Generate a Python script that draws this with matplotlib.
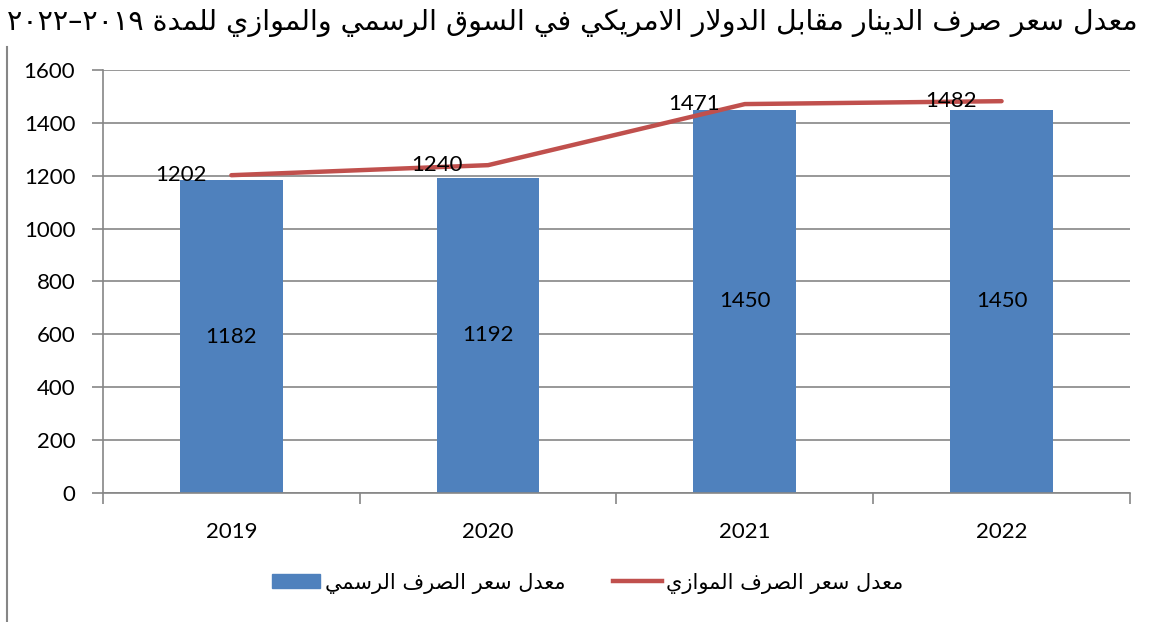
import matplotlib
matplotlib.use("Agg")
import matplotlib.pyplot as plt
from matplotlib.lines import Line2D
from matplotlib.ticker import FixedLocator

years = ["2019", "2020", "2021", "2022"]
official = [1182, 1192, 1450, 1450]
parallel = [1202, 1240, 1471, 1482]

title_ar = "معدل سعر صرف الدينار مقابل الدولار الامريكي في السوق الرسمي والموازي للمدة"
title_years = "٢٠٢٢–٢٠١٩"   # already in visual order
label_official = "معدل سعر الصرف الرسمي"
label_parallel = "معدل سعر الصرف الموازي"

# matplotlib does no arabic shaping, so pick presentation forms by hand
# letter: (isolated, final, initial, medial)
FORMS = {
    'ا': (0xFE8D, 0xFE8E, None, None),
    'ب': (0xFE8F, 0xFE90, 0xFE91, 0xFE92),
    'ة': (0xFE93, 0xFE94, None, None),
    'ت': (0xFE95, 0xFE96, 0xFE97, 0xFE98),
    'د': (0xFEA9, 0xFEAA, None, None),
    'ر': (0xFEAD, 0xFEAE, None, None),
    'ز': (0xFEAF, 0xFEB0, None, None),
    'س': (0xFEB1, 0xFEB2, 0xFEB3, 0xFEB4),
    'ص': (0xFEB9, 0xFEBA, 0xFEBB, 0xFEBC),
    'ع': (0xFEC9, 0xFECA, 0xFECB, 0xFECC),
    'ف': (0xFED1, 0xFED2, 0xFED3, 0xFED4),
    'ق': (0xFED5, 0xFED6, 0xFED7, 0xFED8),
    'ك': (0xFED9, 0xFEDA, 0xFEDB, 0xFEDC),
    'ل': (0xFEDD, 0xFEDE, 0xFEDF, 0xFEE0),
    'م': (0xFEE1, 0xFEE2, 0xFEE3, 0xFEE4),
    'ن': (0xFEE5, 0xFEE6, 0xFEE7, 0xFEE8),
    'و': (0xFEED, 0xFEEE, None, None),
    'ي': (0xFEF1, 0xFEF2, 0xFEF3, 0xFEF4),
}


def joins_next(c):
    return c in FORMS and FORMS[c][2] is not None


def shape(text):
    res = []
    prev = None
    i = 0
    n = len(text)
    while i < n:
        c = text[i]
        if c not in FORMS:
            res.append(c)
            prev = None
            i += 1
            continue
        link_prev = prev is not None and joins_next(prev)
        if c == 'ل' and i + 1 < n and text[i + 1] == 'ا':
            res.append(chr(0xFEFC if link_prev else 0xFEFB))
            prev = 'ا'
            i += 2
            continue
        nxt = text[i + 1] if i + 1 < n else None
        link_next = joins_next(c) and nxt in FORMS
        iso, fin, ini, med = FORMS[c]
        if link_prev and link_next:
            g = med
        elif link_prev:
            g = fin
        elif link_next:
            g = ini
        else:
            g = iso
        res.append(chr(g))
        prev = c
        i += 1
    return "".join(reversed(res))


blue = "#4F81BD"
red = "#C0504D"
grey = "#868686"
num_font = "Lato"
ar_font = ["DejaVu Sans"]
fs = 16

fig = plt.figure(figsize=(11.51, 6.22), dpi=100)
ax = fig.add_axes([0.0895, 0.2074, 0.8922, 0.6801])

x = range(len(years))
ax.bar(x, official, width=0.4, color=blue, zorder=2)
ax.plot(x, parallel, color=red, lw=3.2, solid_capstyle="round", zorder=3)

for i, v in enumerate(official):
    ax.text(i, v / 2, str(v), ha="center", va="center", fontsize=fs,
            family=num_font, zorder=4)
for i, v in enumerate(parallel):
    ax.annotate(str(v), (i, v), xytext=(-25, 0), textcoords="offset pixels",
                ha="right", va="center", fontsize=fs, family=num_font, zorder=4)

ax.set_xlim(-0.5, 3.5)
ax.set_ylim(0, 1600)
ax.set_yticks(range(0, 1601, 200))
ax.set_xticks(list(x))
ax.set_xticklabels(years)
ax.xaxis.set_minor_locator(FixedLocator([-0.5, 0.5, 1.5, 2.5, 3.5]))
ax.tick_params(axis="x", which="major", length=0, pad=21, labelsize=fs)
ax.tick_params(axis="x", which="minor", length=8, color=grey, width=1.2)
ax.tick_params(axis="y", length=8, color=grey, width=1.2, pad=12, labelsize=fs)
for lab in ax.get_xticklabels() + ax.get_yticklabels():
    lab.set_family(num_font)

ax.grid(axis="y", color=grey, lw=1.2, zorder=0)
ax.set_axisbelow(True)
for s in ["top", "right"]:
    ax.spines[s].set_visible(False)
for s in ["left", "bottom"]:
    ax.spines[s].set_color(grey)
    ax.spines[s].set_linewidth(1.2)

fig.text(0.4975, 0.963, title_years + " " + shape(title_ar), ha="center", va="center",
         fontsize=20.5, family=ar_font)

handles = [plt.Rectangle((0, 0), 1, 1, color=blue),
           Line2D([0], [0], color=red, lw=3.2)]
fig.legend(handles, [shape(label_official), shape(label_parallel)],
           loc="center", bbox_to_anchor=(0.5104, 0.0627), ncol=2, frameon=False,
           prop={"family": ar_font, "size": 15}, handlelength=2.35,
           handleheight=0.65, handletextpad=0.2, columnspacing=2.3)

# left edge of the chart frame
fig.add_artist(Line2D([0.0065, 0.0065], [0.0, 0.925], color=grey, lw=1.5))

fig.savefig("out.png", dpi=100)
